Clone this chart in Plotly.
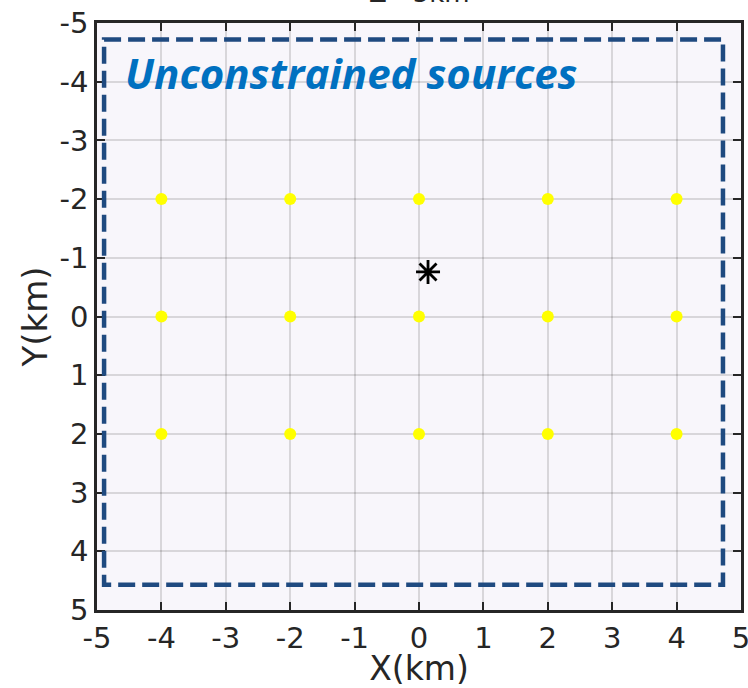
import plotly.graph_objects as go

# Data
src_x = [-4, -2, 0, 2, 4, -4, -2, 0, 2, 4, -4, -2, 0, 2, 4]
src_y = [-2, -2, -2, -2, -2, 0, 0, 0, 0, 0, 2, 2, 2, 2, 2]
star_x = [0.14]
star_y = [-0.76]
box_x = [-4.89, 4.72]
box_y = [-4.72, 4.57]
tick_vals = [-5, -4, -3, -2, -1, 0, 1, 2, 3, 4, 5]
label_text = "Unconstrained sources"
title_text = "Z - 5km"

axis_color = "#262626"
fig = go.Figure()
fig.add_trace(go.Scatter(x=src_x, y=src_y, mode="markers",
                         marker=dict(color="#ffff00", size=12, line=dict(width=0)),
                         showlegend=False, hoverinfo="skip"))
fig.add_trace(go.Scatter(x=star_x, y=star_y, mode="markers",
                         marker=dict(symbol="asterisk-open", color="black", size=20,
                                     line=dict(color="black", width=2.8)),
                         showlegend=False, hoverinfo="skip"))
fig.add_shape(type="rect", x0=box_x[0], x1=box_x[1], y0=box_y[0], y1=box_y[1],
              xref="x", yref="y",
              line=dict(color="#1f4a80", width=4.5, dash="17px,7px"))
fig.add_annotation(x=-4.6, y=-4.16, xref="x", yref="y", text=label_text,
                   showarrow=False, xanchor="left", yanchor="middle",
                   font=dict(family="Open Sans", size=42, color="#0070c0", weight="bold",
                             style="italic"))
fig.add_annotation(x=0.5, y=1, xref="paper", yref="paper", text=title_text,
                   showarrow=False, xanchor="center", yanchor="bottom", yshift=13,
                   font=dict(family="DejaVu Sans", size=26, color=axis_color))

common = dict(tickvals=tick_vals, ticktext=[str(v) for v in tick_vals],
              ticks="inside", ticklen=8, tickwidth=2, tickcolor=axis_color,
              showline=True, linecolor=axis_color, linewidth=2.5, mirror="ticks",
              showgrid=True, gridcolor="rgba(0,0,0,0.13)", gridwidth=2,
              zeroline=False, automargin=False, ticklabeloverflow="allow",
              tickfont=dict(family="DejaVu Sans", size=29, color=axis_color))
fig.update_xaxes(range=[-5, 5], title=dict(text="X(km)", standoff=3,
                 font=dict(family="DejaVu Sans", size=33, color=axis_color)), **common)
fig.update_yaxes(range=[5, -5], title=dict(text="Y(km)", standoff=2,
                 font=dict(family="DejaVu Sans", size=34, color=axis_color)), **common)
fig.update_layout(width=748, height=688, margin=dict(l=97, r=7, t=23, b=78),
                  plot_bgcolor="#f8f6fb", paper_bgcolor="white")
fig.write_html("out.html")
